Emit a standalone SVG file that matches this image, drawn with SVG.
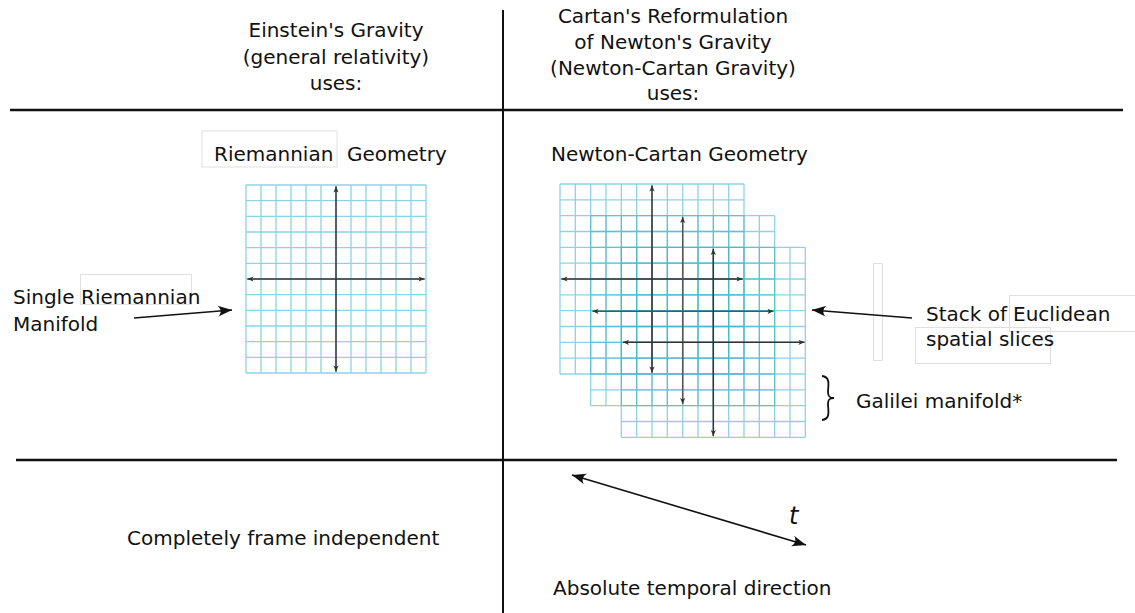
<svg xmlns="http://www.w3.org/2000/svg" width="1135" height="613" viewBox="0 0 1135 613">
<style>
text{font-family:"DejaVu Sans","Liberation Sans",sans-serif;font-size:20px;fill:#111}
.c{text-anchor:middle}
.rule{stroke:#111;stroke-width:2.5;fill:none}
.grid{stroke:#3db3cf;stroke-opacity:0.58;stroke-width:1.3;fill:none}
.axis{stroke:#333;stroke-width:1.5;fill:none;marker-start:url(#ah);marker-end:url(#ah)}
.faint{stroke:#e0e0e0;stroke-width:1;fill:none}
.arr{stroke:#111;stroke-width:1.6;fill:none}
</style>
<defs>
<marker id="ah" markerUnits="userSpaceOnUse" markerWidth="10" markerHeight="8" refX="0" refY="0" viewBox="-7 -4 8 8" orient="auto-start-reverse">
<path d="M0,0 L-6,-2.6 L-4.5,0 L-6,2.6 Z" fill="#333"/>
</marker>
<marker id="big" markerUnits="userSpaceOnUse" markerWidth="18" markerHeight="14" refX="0" refY="0" viewBox="-15 -7 16 14" orient="auto-start-reverse">
<path d="M0,0 L-14,-5.5 C-10.5,-2 -10.5,2 -14,5.5 Z" fill="#111"/>
</marker>
<g id="rgrid">
<path class="grid" d="M0,0V190M15.33,0V190M30.67,0V190M46,0V190M61.33,0V190M76.67,0V190M92,0V190M107.33,0V190M122.67,0V190M138,0V190M153.33,0V190M168.67,0V190M184,0V190M0,0H184M0,15.83H184M0,31.67H184M0,47.5H184M0,63.33H184M0,79.17H184M0,95H184M0,110.83H184M0,126.67H184M0,142.5H184M0,158.33H184M0,174.17H184M0,190H184"/>
</g>
</defs>
<rect width="1135" height="613" fill="#fff"/>

<g id="frame">
<path class="rule" d="M10,110H1123"/>
<path class="rule" d="M16,460H1117"/>
<path class="rule" d="M503,10V613" style="stroke-width:2"/>
</g>

<g id="faint-boxes">
<rect class="faint" x="202" y="131" width="135" height="36"/>
<rect class="faint" x="80.5" y="274.5" width="111" height="30"/>
<rect class="faint" x="1009.5" y="295.5" width="130" height="36"/>
<rect class="faint" x="915.5" y="327.5" width="135" height="36"/>
<rect class="faint" x="873.5" y="263.5" width="9" height="97"/>
</g>

<g id="header-einstein">
<text class="c" x="336" y="37">Einstein's Gravity</text>
<text class="c" x="336" y="63.5">(general relativity)</text>
<text class="c" x="336" y="90">uses:</text>
</g>
<g id="header-cartan">
<text class="c" x="673" y="23">Cartan's Reformulation</text>
<text class="c" x="673" y="49">of Newton's Gravity</text>
<text class="c" x="673" y="75">(Newton-Cartan Gravity)</text>
<text class="c" x="673" y="100">uses:</text>
</g>

<g id="riemannian-geometry">
<text x="214" y="161">Riemannian</text>
<text x="347" y="161">Geometry</text>
<path class="grid" d="M246,185V373M261,185V373M276,185V373M291,185V373M306,185V373M321,185V373M336,185V373M351,185V373M366,185V373M381,185V373M396,185V373M411,185V373M426,185V373M246,185H426M246,200.67H426M246,216.33H426M246,232H426M246,247.67H426M246,263.33H426M246,279H426M246,294.67H426M246,310.33H426M246,326H426M246,341.67H426M246,357.33H426M246,373H426"/>
<path class="axis" d="M247.5,279H424.5"/>
<path class="axis" d="M336,186.5V371.5"/>
</g>

<g id="newton-cartan-geometry">
<text x="551" y="161">Newton-Cartan Geometry</text>
<use href="#rgrid" x="560" y="184"/>
<use href="#rgrid" x="590.67" y="215.67"/>
<use href="#rgrid" x="621.33" y="247.33"/>
<path class="axis" d="M561.5,279H742.5"/>
<path class="axis" d="M652,185.5V372.5"/>
<path class="axis" d="M592.5,311.3H773.5" style="stroke:#555"/>
<path class="axis" d="M682.7,217V404" style="stroke:#555"/>
<path class="axis" d="M623,342.3H804.5"/>
<path class="axis" d="M713.3,249V436"/>
</g>

<g id="single-manifold">
<text x="13" y="304">Single</text>
<text x="81" y="304">Riemannian</text>
<text x="13" y="331">Manifold</text>
</g>

<g id="stack-label">
<text x="926" y="321">Stack of</text>
<text x="1013" y="321">Euclidean</text>
<text x="926" y="346">spatial slices</text>
</g>

<g id="galilei">
<path d="M822,376 C831,377 828,386 828,392 C828,396 829,398 834,398 C829,398 828,400 828,404 C828,410 831,419 822,420" stroke="#111" stroke-width="1.8" fill="none"/>
<text x="856" y="408">Galilei manifold*</text>
</g>

<g id="bottom-left">
<text x="127" y="545">Completely frame independent</text>
</g>
<g id="bottom-right">
<text x="789" y="524" style="font-style:italic;font-size:24px">t</text>
<text x="553" y="595">Absolute temporal direction</text>
</g>

<g id="connectors">
<path class="arr" d="M134,318 L232,310" marker-end="url(#big)"/>
<path class="arr" d="M912,318 L812,310" marker-end="url(#big)"/>
<path class="arr" d="M572,475 L806,545" marker-start="url(#big)" marker-end="url(#big)"/>
</g>
</svg>
